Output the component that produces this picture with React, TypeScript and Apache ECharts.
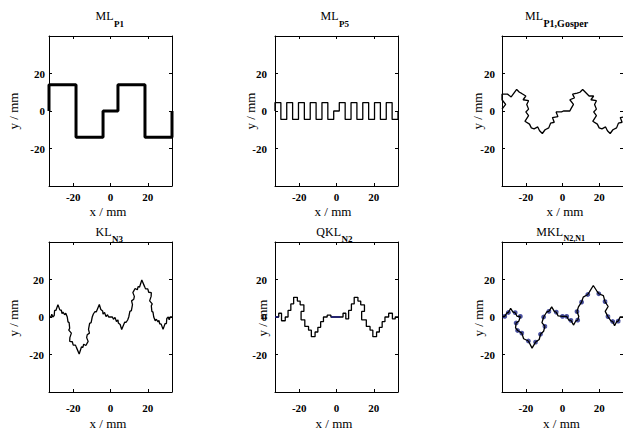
import React, { useEffect, useRef } from 'react';
import * as echarts from 'echarts';

const FONT = '"Liberation Serif","Times New Roman",serif';

// ---- data ----
const xTicks = [-20, 0, 20];
const yTicks = [-20, 0, 20];
const titleMain = ['ML', 'ML', 'ML', 'KL', 'QKL', 'MKL'];
const titleSub = ['P1', 'P5', 'P1,Gosper', 'N3', 'N2', 'N2,N1'];
const xName = 'x / mm';
const yName = 'y / mm';

const mlP1 = [
  [-33, 0], [-33, 14], [-18.5, 14], [-18.5, -14], [-4, -14], [-4, 0], [4, 0],
  [4, 14], [18.5, 14], [18.5, -14], [33, -14], [33, 0],
];

const mlP5 = [
  [-33, 0], [-33, 4.5], [-29.85, 4.5], [-29.85, -4.5], [-26.7, -4.5], [-26.7, 4.5],
  [-23.55, 4.5], [-23.55, -4.5], [-20.4, -4.5], [-20.4, 4.5], [-17.25, 4.5], [-17.25, -4.5],
  [-14.1, -4.5], [-14.1, 4.5], [-10.95, 4.5], [-10.95, -4.5], [-7.8, -4.5], [-7.8, 4.5],
  [-4.65, 4.5], [-4.65, -4.5], [-1.5, -4.5], [-1.5, 0], [1.5, 0], [1.5, 4.5],
  [4.65, 4.5], [4.65, -4.5], [7.8, -4.5], [7.8, 4.5], [10.95, 4.5], [10.95, -4.5],
  [14.1, -4.5], [14.1, 4.5], [17.25, 4.5], [17.25, -4.5], [20.4, -4.5], [20.4, 4.5],
  [23.55, 4.5], [23.55, -4.5], [26.7, -4.5], [26.7, 4.5], [29.85, 4.5], [29.85, -4.5],
  [33, -4.5], [33, 0],
];

const mlGosper = [
  [-33, 1], [-31, 3.5], [-33, 6], [-33, 9], [-30, 9], [-28, 7.5], [-26.5, 9.5], [-25, 11.5],
  [-23.5, 10], [-22.5, 9.5], [-20, 8], [-21.5, 6], [-18.5, 5.5], [-19.5, 3.5], [-18.5, 1],
  [-20, -0.5], [-18.5, -2.5], [-20.5, -5.5], [-18, -7], [-17, -9], [-15.5, -9.5], [-13.5, -8.5],
  [-12.5, -10.5], [-11, -12], [-9.5, -10], [-7.5, -9], [-6.5, -6.5], [-4.5, -6], [-5.5, -3.5],
  [-2.5, -3], [-3.5, -0.5], [-0.5, -0.5], [0.5, 0], [4, 0],
  [4.5, 1], [6, 3.5], [4, 6], [6.5, 7], [5.5, 9], [8, 9.5], [9.5, 10], [11, 11.5],
  [12.5, 10], [14.5, 8], [17, 8], [15.5, 6], [18.5, 5.5], [17.5, 3.5], [18.5, 1],
  [17, -0.5], [18.5, -2.5], [16.5, -5.5], [19, -7], [20, -9], [21.5, -9.5], [23.5, -8.5],
  [24.5, -10.5], [26, -12], [27.5, -10], [29.5, -9], [30.5, -6.5], [32.5, -6], [31.5, -3.5],
  [34.5, -3], [33.5, -0.5], [36.5, -0.5],
];

const klN3 = [
  [-33, 0], [-32, 0], [-31.5, 1.5], [-31, 0], [-30.2, 0.8], [-30, 3.5], [-29.3, 3.5], [-28.2, 6.6],
  [-27.2, 3.8], [-26.4, 3.6], [-26, 1.8], [-25.5, 2.6], [-24.6, 1.2], [-24, 2], [-23.2, 0],
  [-22.8, -2.6], [-22.2, -3], [-21.9, -6], [-22.4, -7], [-21, -8.6], [-21.8, -11], [-21.9, -13],
  [-20.5, -13.2], [-20, -15], [-18.8, -15], [-18.3, -16.2], [-16.8, -19.7], [-15.6, -16],
  [-14.8, -16.2], [-14.4, -14.5], [-13.2, -15.2], [-12, -13], [-12.8, -11], [-12.5, -9.5],
  [-11.3, -8.6], [-11.8, -6.6], [-11.2, -3.4], [-10.4, -3], [-9.8, 0], [-9.2, 1.6], [-8.4, 2.8],
  [-7.6, 2.8], [-6, 6.7], [-5.2, 4], [-4.2, 3.2], [-4, 1.5], [-3.2, 2.4], [-2.4, 0.2], [-1.6, 1.2],
  [-1, 0], [0, 0], [1, 0], [1.6, -1.2], [2.4, -0.2], [3.2, -2.4], [4, -1.5], [4.2, -3.2], [5.2, -4],
  [6, -6.7], [7.6, -2.8], [8.4, -2.8], [9.2, -1.6], [9.8, 0], [10.4, 3], [11.2, 3.4], [11.8, 6.6],
  [11.3, 8.6], [12.5, 9.5], [12.8, 11], [12, 13], [13.2, 15.2], [14.4, 14.5], [14.8, 16.2],
  [15.6, 16], [16.8, 19.7], [18.3, 16.2], [18.8, 15], [20, 15], [20.5, 13.2], [21.9, 13],
  [21.8, 11], [21, 8.6], [22.4, 7], [21.9, 6], [22.2, 3], [22.8, 2.6], [23.2, 0], [24, -2],
  [24.6, -1.2], [25.5, -2.6], [26, -1.8], [26.4, -3.6], [27.2, -3.8], [28.2, -6.6], [29.3, -3.5],
  [30, -3.5], [30.2, -0.8], [31, 0], [31.5, -1.5], [32, 0], [33, 0],
];

const qklN2 = [
  [-33, 0], [-31, 0], [-31, 2], [-29.5, 2], [-29.5, -2], [-27.5, -2], [-27.5, 0], [-26, 0],
  [-26, 3.5], [-24.5, 3.5], [-24.5, 7], [-23, 7], [-23, 10.5], [-21, 10.5], [-21, 8.5],
  [-19.5, 8.5], [-19.5, 6.5], [-17.5, 6.5], [-17.5, 3], [-19, 3], [-19, -1.5], [-17, -1.5],
  [-17, -5], [-15, -5], [-15, -7], [-13.5, -7], [-13.5, -10.5], [-11.5, -10.5], [-11.5, -8],
  [-10, -8], [-10, -5.5], [-8.5, -5.5], [-8.5, -2.5], [-7, -2.5], [-7, 0], [-5, 0], [-5, 1],
  [-3, 1], [-3, 0], [3.5, 0], [3.5, 2], [5, 2], [5, -1], [6.5, -1], [6.5, 3.5], [8, 3.5],
  [8, 7], [9.5, 7], [9.5, 10.5], [11.5, 10.5], [11.5, 8.5], [13, 8.5], [13, 6.5], [15, 6.5],
  [15, 3], [13.5, 3], [13.5, -1.5], [16, -1.5], [16, -5], [18, -5], [18, -7], [19.5, -7],
  [19.5, -10.5], [21.5, -10.5], [21.5, -8], [23, -8], [23, -5.5], [24.5, -5.5], [24.5, -2.5],
  [26, -2.5], [26, 0], [28, 0], [28, 2], [30, 2], [30, -1], [31.5, -1], [31.5, 0], [33, 0],
];
const qklBlueA = [[-33, 0], [-31, 0]];
const qklBlueB = [[-3, 0], [2, 0]];

const mklN2 = [
  [-33, 0.3], [-31.5, 0.3], [-30.3, 2.2], [-29.5, 2.4], [-28.3, 4.6], [-27, 2.6], [-25.8, 2.3],
  [-24.8, 0.4], [-23, 0.3], [-23.8, -2.2], [-25.3, -3.2], [-25.6, -5.8], [-24.5, -7.2],
  [-22.2, -8.6], [-21.2, -11.6], [-18.6, -12.8], [-16.6, -16.6], [-14.7, -13.4], [-12.7, -12],
  [-12, -9.2], [-10.3, -7.6], [-9.6, -5], [-11.2, -3], [-10.3, 0], [-8.5, 2.8], [-7.4, 3],
  [-5.9, 5.4], [-4.4, 2.9], [-3.4, 2.6], [-2.4, 0.6], [0, 0.3], [2.3, 0.3], [3.4, -1.6],
  [4.6, -1.8], [6, -4.3], [7.3, -2], [8.3, -1.7], [8.9, 0.3], [7.9, 2.9], [8.7, 5.4], [10.4, 7.9],
  [11.3, 10.6], [13.8, 12], [14.7, 13.4], [16.8, 16.8], [18.9, 13.6], [19.8, 12.4], [22.3, 11.4],
  [23.2, 8.2], [24.9, 5.6], [23.3, 3], [24.8, 0.2], [26.4, -2.1], [27.4, -2.4], [28.4, -4.6],
  [29.6, -2.4], [30.4, -2.2], [31.4, 0], [33, 0],
];
const mklMarkers = [
  [-31.5, 0.3], [-29.5, 2.4], [-25.8, 2.3], [-23, 0.3], [-25.3, -3.2], [-24.5, -7.2],
  [-22.2, -8.6], [-18.6, -12.8], [-14.7, -13.4], [-12, -9.2], [-9.6, -5], [-10.3, 0],
  [-7.4, 3], [-3.4, 2.6], [0, 0.3], [2.3, 0.3], [4.6, -1.8], [8.3, -1.7], [7.9, 2.9],
  [10.4, 7.9], [13.8, 12], [19.8, 12.4], [23.2, 8.2], [24.8, 0.2], [27.4, -2.4], [30.4, -2.2],
];

const curves = [mlP1, mlP5, mlGosper, klN3, qklN2, mklN2];

// ---- layout ----
const X_MIN = -33, X_MAX = 33, Y_MIN = -40, Y_MAX = 40;
const LEFTS = [49, 275, 502];
const TOPS = [36, 242];
const GW = 123, GH = 150;
const lineWidths = [3, 1.3, 1.3, 1.3, 1.3, 1.3];
const splitX = [113.5, 338.5, 543, 111.5, 341, 563];
const mainY = [15.5, 232];
const subY = [23.5, 238.5];
const subSize = [9, 9, 10, 9, 9, 8];
const xLabelX = [108, 333, 565, 108, 334, 561.5];
const xLabelY = [211, 423];
const yLabelX = [13, 250, 477, 13, 262, 478];
const yLabelY = [111, 318];
const xMargin = [5, 5, 5, 10, 10, 10];
const yMargin = [4, 8, 7, 5, 8, 7];

export default function App() {
  const ref = useRef<HTMLDivElement>(null);
  useEffect(() => {
    if (!ref.current) return;
    const chart = echarts.init(ref.current, null, { renderer: 'svg' });
    const idx = [0, 1, 2, 3, 4, 5];
    const grid = idx.map((i) => ({
      left: LEFTS[i % 3], top: TOPS[Math.floor(i / 3)], width: GW, height: GH,
      containLabel: false,
    }));
    const axisLine = { show: true, onZero: false, lineStyle: { color: '#000', width: 1 } };
    const xAxis: any[] = [];
    const yAxis: any[] = [];
    idx.forEach((i) => {
      xAxis.push({
        type: 'value', gridIndex: i, min: X_MIN, max: X_MAX, position: 'bottom',
        axisLine, splitLine: { show: false },
        axisTick: { show: true, inside: true, length: 3, customValues: xTicks, lineStyle: { color: '#000' } },
        axisLabel: {
          show: true, customValues: xTicks, margin: xMargin[i], color: '#000',
          fontFamily: FONT, fontSize: 11, fontWeight: 'bold',
        },
      });
      yAxis.push({
        type: 'value', gridIndex: i, min: Y_MIN, max: Y_MAX, position: 'left',
        axisLine, splitLine: { show: false },
        axisTick: { show: true, inside: true, length: 3, customValues: yTicks, lineStyle: { color: '#000' } },
        axisLabel: {
          show: true, customValues: yTicks, margin: yMargin[i], color: '#000',
          fontFamily: FONT, fontSize: 11, fontWeight: 'bold',
        },
      });
    });
    idx.forEach((i) => {
      xAxis.push({
        type: 'value', gridIndex: i, min: X_MIN, max: X_MAX, position: 'top',
        axisLine, splitLine: { show: false },
        axisTick: { show: true, inside: true, length: 3, customValues: xTicks, lineStyle: { color: '#000' } },
        axisLabel: { show: false },
      });
      yAxis.push({
        type: 'value', gridIndex: i, min: Y_MIN, max: Y_MAX, position: 'right',
        axisLine, splitLine: { show: false },
        axisTick: { show: true, inside: true, length: 3, customValues: yTicks, lineStyle: { color: '#000' } },
        axisLabel: { show: false },
      });
    });

    const series: any[] = idx.map((i) => ({
      type: 'line', xAxisIndex: i, yAxisIndex: i, data: curves[i],
      showSymbol: false, symbol: 'none', clip: true, silent: true,
      lineStyle: { color: '#000', width: lineWidths[i] },
    }));
    [qklBlueA, qklBlueB].forEach((d) => series.push({
      type: 'line', xAxisIndex: 4, yAxisIndex: 4, data: d, symbol: 'none', clip: true, silent: true,
      lineStyle: { color: '#1c1c80', width: 1.3 },
    }));
    series.push({
      type: 'scatter', xAxisIndex: 5, yAxisIndex: 5, data: mklMarkers, symbol: 'emptyCircle',
      symbolSize: 2.8, silent: true, clip: true,
      itemStyle: { color: '#1c2488', borderColor: '#1c2488', borderWidth: 0.8 },
    });

    const graphic: any[] = [];
    idx.forEach((i) => {
      const r = Math.floor(i / 3);
      graphic.push({
        type: 'text', x: splitX[i], y: mainY[r], silent: true,
        style: { text: titleMain[i], fill: '#000', font: `12px ${FONT}`, align: 'right', verticalAlign: 'middle' },
      });
      graphic.push({
        type: 'text', x: splitX[i] + 0.5, y: subY[r], silent: true,
        style: { text: titleSub[i], fill: '#000', font: `bold ${subSize[i]}px ${FONT}`, align: 'left', verticalAlign: 'middle' },
      });
      graphic.push({
        type: 'text', x: xLabelX[i], y: xLabelY[r], silent: true,
        style: { text: xName, fill: '#000', font: `13px ${FONT}`, align: 'center', verticalAlign: 'middle' },
      });
      graphic.push({
        type: 'text', x: yLabelX[i], y: yLabelY[r], rotation: Math.PI / 2, silent: true,
        style: { text: yName, fill: '#000', font: `13px ${FONT}`, align: 'center', verticalAlign: 'middle' },
      });
    });

    chart.setOption({
      animation: false,
      backgroundColor: '#fff',
      grid, xAxis, yAxis, series, graphic,
    });
    return () => chart.dispose();
  }, []);
  return (
    <div
      ref={ref}
      style={{ position: 'fixed', left: 0, top: 0, width: 623, height: 431, background: '#fff' }}
    />
  );
}
